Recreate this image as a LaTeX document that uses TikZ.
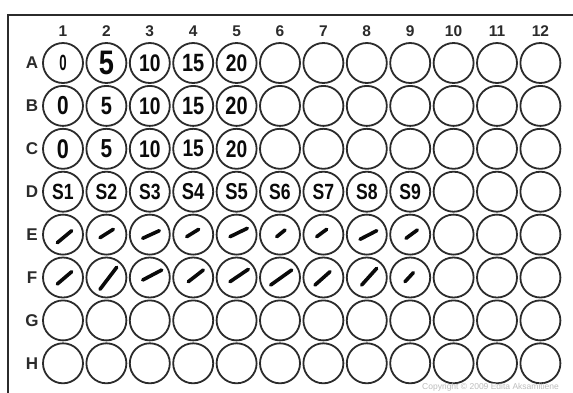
\documentclass[tikz,border=0pt]{standalone}
\usepackage{fontspec}
\setmainfont{Liberation Sans}
\definecolor{ink}{HTML}{2B2B2B}
\definecolor{pen}{HTML}{0A0A0A}
\definecolor{copytext}{HTML}{BDBDBD}
\newcommand\hwtext[1]{\scalebox{0.8}[1]{#1}}
\begin{document}
\begin{tikzpicture}[x=1pt,y=-1pt,
  well/.style={circle,draw=ink,line width=1.8pt,minimum size=40pt,inner sep=0pt},
  collabel/.style={font=\fontsize{15.5}{15.5}\selectfont\bfseries,text=ink,inner sep=0pt},
  rowlabel/.style={font=\fontsize{17}{17}\selectfont\bfseries,text=ink,inner sep=0pt},
  hand/.style={text=pen,inner sep=0pt},
  penstroke/.style={draw=pen,line width=3.6pt,line cap=round}]
\useasboundingbox (0,0) rectangle (573,392);
\fill[white] (0,0) rectangle (573,392);
\draw[ink,line width=2pt] (8,15) rectangle (620,430);
\foreach \c in {1,...,12}
  \node[collabel] (col\c) at ({63+(\c-1)*43.4},31) {\c};
\foreach \L [count=\i] in {A,B,C,D,E,F,G,H} {
  \node[rowlabel] (row\L) at (32,{63+(\i-1)*42.9}) {\L};
  \foreach \c in {1,...,12}
    \node[well] (\L\c) at ({63+(\c-1)*43.4},{63+(\i-1)*42.9}) {};
}
\node[hand,font=\fontsize{22}{22}\selectfont\bfseries] (tA1) at (A1) {\scalebox{0.6}[1]{0}};
\foreach \w/\t/\s in {A2/5/34,A3/10/24,A4/15/25,A5/20/24,
  B1/0/26,B2/5/25,B3/10/24,B4/15/25,B5/20/25,
  C1/0/27,C2/5/26,C3/10/24,C4/15/24,C5/20/24,
  D1/S1/22,D2/S2/22,D3/S3/22,D4/S4/23,D5/S5/23,D6/S6/22,D7/S7/22,D8/S8/22,D9/S9/22}
  \node[hand,font=\fontsize{\s}{\s}\selectfont\bfseries] (t\w) at (\w) {\hwtext{\t}};
\foreach \w/\ax/\ay/\bx/\by in {
  E1/-5.7/8.1/8.7/-3.9, E2/-6.4/3.1/6.9/-5.3, E3/-7.1/3.7/9.5/-3.9,
  E4/-6.5/2.1/5.5/-5.3, E5/-6.6/2.1/10.7/-6.3, E6/-3.3/2.1/5/-4.6,
  E7/-6.7/2.1/3.3/-5.3, E8/-6.8/4.7/9.9/-3.9, E9/-4.2/3.7/7.1/-4.6,
  F1/-5.7/6.5/8.7/-5.8, F2/-6.4/11.8/10.3/-10.2, F3/-7.1/2.5/11.9/-7.5,
  F4/-4.9/4.2/10.1/-7.5, F5/-6.6/4.2/11.7/-8.2, F6/-9.3/7.5/11.7/-7.5,
  F7/-8.4/7.5/6.6/-5.8, F8/-5.1/7.5/9.9/-9.2, F9/-5.2/4.2/3.1/-4.8}
  \draw[penstroke] ([shift={(\ax,\ay)}]\w.center) -- ([shift={(\bx,\by)}]\w.center);
\node[anchor=base west,font=\fontsize{8.5}{8.5}\selectfont,text=copytext,inner sep=0pt] (copyright) at (422,389) {Copyright © 2009 Edita Aksamitiene};
\end{tikzpicture}
\end{document}
